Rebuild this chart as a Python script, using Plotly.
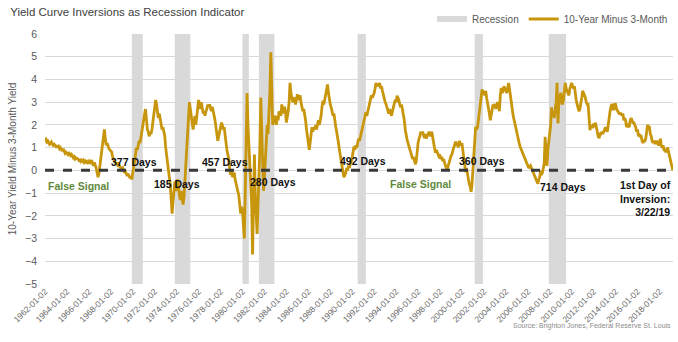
import plotly.graph_objects as go

# ---------------- data (monthly values) ----------------
spread_by_year = {
    1962: [1.45, 1.35, 1.25, 1.30, 1.20, 1.15, 1.20, 1.25, 1.15, 1.10, 1.15, 1.10],
    1963: [1.05, 1.10, 1.00, 1.05, 0.95, 1.00, 0.90, 0.85, 0.95, 0.80, 0.75, 0.80],
    1964: [0.75, 0.70, 0.80, 0.70, 0.65, 0.70, 0.60, 0.55, 0.60, 0.50, 0.55, 0.50],
    1965: [0.50, 0.45, 0.50, 0.40, 0.45, 0.40, 0.45, 0.35, 0.40, 0.45, 0.30, 0.35],
    1966: [0.40, 0.30, 0.35, 0.45, 0.30, 0.20, 0.35, 0.25, 0.10, -0.10, -0.30, -0.15],
    1967: [0.20, 0.50, 0.90, 1.30, 1.60, 1.80, 1.40, 1.10, 1.20, 1.00, 0.95, 0.90],
    1968: [0.85, 0.80, 0.60, 0.45, 0.40, 0.35, 0.30, 0.25, 0.35, 0.20, 0.15, 0.10],
    1969: [0.05, 0.10, 0.00, -0.10, -0.05, -0.20, -0.25, -0.15, -0.30, -0.35, -0.25, -0.40],
    1970: [-0.10, 0.10, 0.40, 0.70, 1.00, 0.90, 1.10, 1.30, 1.20, 1.50, 1.60, 1.90],
    1971: [2.20, 2.50, 2.70, 2.20, 1.80, 1.70, 1.50, 1.65, 1.60, 1.80, 2.10, 2.50],
    1972: [2.80, 3.10, 2.90, 2.60, 2.30, 2.50, 2.20, 2.00, 1.80, 1.90, 1.70, 1.50],
    1973: [1.00, 0.60, 0.30, 0.00, -0.30, -0.60, -1.20, -1.90, -1.40, -0.80, -0.50, -0.90],
    1974: [-0.80, -0.40, -0.90, -1.10, -1.30, -0.90, -1.20, -1.50, -1.20, -0.50, 0.20, 0.60],
    1975: [1.20, 2.20, 3.00, 2.70, 2.30, 1.90, 1.80, 2.10, 2.40, 2.00, 2.50, 2.80],
    1976: [3.10, 2.90, 2.70, 3.00, 2.80, 2.50, 2.60, 2.40, 2.60, 2.70, 2.90, 2.80],
    1977: [2.90, 2.70, 2.60, 2.80, 2.50, 2.40, 2.20, 1.80, 1.40, 1.30, 1.50, 1.70],
    1978: [1.90, 2.10, 2.00, 1.80, 1.90, 1.50, 1.20, 0.90, 0.70, 0.50, 0.10, -0.20],
    1979: [0.00, -0.30, -0.20, -0.10, -0.40, -0.60, -0.70, -0.90, -1.10, -1.50, -1.90, -1.60],
    1980: [-1.80, -2.40, -3.00, -1.00, 2.50, 3.40, 2.00, 1.00, 0.20, -0.50, -1.50, -3.70],
    1981: [-2.00, 0.70, -1.00, -2.20, -2.80, -1.50, -0.50, 1.00, 3.20, 2.00, 0.50, -0.90],
    1982: [-0.30, 0.50, 1.20, 2.00, 1.60, 2.50, 3.50, 5.20, 3.00, 2.00, 2.20, 2.40],
    1983: [2.30, 2.00, 2.40, 2.20, 2.60, 2.50, 2.40, 2.90, 2.70, 2.50, 2.80, 2.60],
    1984: [2.10, 2.30, 2.60, 3.00, 3.85, 3.40, 3.10, 3.00, 3.20, 3.10, 2.90, 3.20],
    1985: [3.35, 3.10, 3.20, 3.30, 3.00, 2.80, 2.60, 2.70, 2.50, 2.20, 1.80, 1.50],
    1986: [1.10, 0.90, 1.20, 1.50, 1.90, 1.70, 1.90, 1.80, 2.00, 1.80, 2.10, 2.20],
    1987: [2.00, 2.20, 2.40, 2.80, 3.06, 2.90, 3.10, 3.30, 3.50, 3.78, 3.40, 3.10],
    1988: [2.90, 2.77, 2.60, 2.40, 2.50, 2.10, 1.92, 1.70, 1.50, 1.20, 0.90, 0.60],
    1989: [0.30, 0.20, -0.10, -0.30, -0.20, -0.10, 0.10, 0.00, 0.20, 0.10, 0.30, 0.40],
    1990: [0.60, 0.90, 1.05, 0.90, 1.10, 1.00, 1.20, 1.40, 1.30, 1.50, 1.70, 1.90],
    1991: [2.06, 2.20, 2.40, 2.56, 2.40, 2.60, 2.70, 2.90, 3.10, 3.30, 3.20, 3.30],
    1992: [3.40, 3.60, 3.85, 3.70, 3.80, 3.70, 3.85, 3.60, 3.70, 3.50, 3.30, 3.20],
    1993: [3.00, 2.90, 2.80, 2.60, 2.50, 2.70, 2.50, 2.40, 2.60, 2.80, 3.00, 3.10],
    1994: [3.00, 3.28, 3.20, 3.10, 2.90, 2.77, 2.90, 2.70, 2.50, 2.20, 1.80, 1.50],
    1995: [1.34, 1.20, 1.00, 0.92, 0.80, 0.60, 0.50, 0.60, 0.40, 0.27, 0.40, 0.90],
    1996: [1.20, 1.40, 1.50, 1.70, 1.60, 1.70, 1.50, 1.42, 1.60, 1.40, 1.50, 1.60],
    1997: [1.70, 1.60, 1.50, 1.70, 1.40, 1.20, 1.00, 0.77, 0.90, 0.80, 0.70, 0.60],
    1998: [0.63, 0.50, 0.60, 0.40, 0.50, 0.30, 0.20, 0.10, -0.01, 0.20, 0.40, 0.50],
    1999: [0.63, 0.70, 0.90, 1.00, 1.10, 1.27, 1.10, 1.20, 1.00, 1.30, 1.20, 1.10],
    2000: [1.20, 0.80, 0.50, 0.30, -0.08, 0.10, -0.20, -0.40, -0.60, -0.70, -0.94, -0.60],
    2001: [0.00, 0.50, 1.00, 1.92, 1.80, 1.90, 2.20, 2.50, 2.90, 3.20, 3.56, 3.40],
    2002: [3.42, 3.30, 3.50, 3.20, 3.00, 2.80, 2.50, 2.20, 2.50, 2.60, 2.90, 2.80],
    2003: [2.92, 2.70, 2.80, 3.00, 2.90, 2.60, 3.30, 3.63, 3.40, 3.50, 3.70, 3.60],
    2004: [3.50, 3.40, 3.60, 3.85, 3.60, 3.20, 2.90, 2.70, 2.40, 2.20, 2.00, 1.90],
    2005: [1.60, 1.40, 1.30, 1.13, 1.00, 0.90, 0.80, 0.63, 0.60, 0.50, 0.40, 0.30],
    2006: [0.20, 0.10, 0.15, 0.20, 0.10, 0.00, -0.10, -0.23, -0.30, -0.40, -0.50, -0.59],
    2007: [-0.40, -0.30, -0.01, -0.20, -0.10, 0.10, 0.30, 1.48, 0.80, 0.20, 0.90, 1.30],
    2008: [1.77, 2.00, 2.77, 2.40, 2.60, 2.30, 2.70, 3.00, 3.85, 2.06, 3.00, 3.20],
    2009: [3.42, 3.00, 2.90, 3.10, 3.50, 3.85, 3.60, 3.50, 3.42, 3.30, 3.60, 3.70],
    2010: [3.85, 3.70, 3.60, 3.70, 3.30, 3.10, 2.90, 2.77, 2.60, 2.70, 2.90, 3.20],
    2011: [3.50, 3.40, 3.30, 3.20, 3.00, 2.90, 2.90, 2.20, 1.77, 2.00, 1.90, 1.90],
    2012: [2.06, 1.90, 2.10, 1.90, 1.60, 1.50, 1.42, 1.60, 1.60, 1.70, 1.60, 1.70],
    2013: [1.77, 1.90, 1.80, 1.70, 2.00, 2.40, 2.60, 2.80, 2.92, 2.70, 2.70, 2.90],
    2014: [2.90, 2.70, 2.63, 2.60, 2.50, 2.50, 2.50, 2.40, 2.50, 2.20, 2.30, 2.20],
    2015: [1.90, 2.00, 1.92, 1.90, 2.20, 2.30, 2.20, 2.10, 2.10, 2.00, 1.90, 1.70],
    2016: [1.80, 1.50, 1.60, 1.50, 1.50, 1.30, 1.20, 1.30, 1.30, 1.40, 1.90, 2.00],
    2017: [1.90, 1.90, 1.60, 1.50, 1.30, 1.20, 1.30, 1.20, 1.20, 1.30, 1.20, 1.10],
    2018: [1.20, 1.40, 1.10, 1.00, 1.10, 0.90, 0.90, 0.80, 0.90, 1.00, 0.80, 0.60],
    2019: [0.40, 0.30],
}
end_date = "2019-03-22"
end_value = 0.0

rec_start = ["1969-12-01", "1973-11-01", "1980-01-01", "1981-07-01",
             "1990-07-01", "2001-03-01", "2007-12-01"]
rec_end = ["1970-11-30", "1975-03-31", "1980-07-31", "1982-11-30",
           "1991-03-31", "2001-11-30", "2009-06-30"]

tick_labels = [f"{y}-01-02" for y in range(1962, 2019, 2)]

lag_text = ["377 Days", "185 Days", "457 Days", "280 Days",
            "492 Days", "360 Days", "714 Days"]
lag_x = ["1970-02-01", "1974-01-01", "1978-05-15", "1982-10-15",
         "1991-01-01", "2001-11-15", "2009-04-01"]
lag_y = [0.39, -0.60, 0.39, -0.52, 0.43, 0.43, -0.73]

false_x = ["1962-02-15", "1996-04-01"]
false_y = [-0.70, -0.60]
false_anchor = ["left", "center"]

# ---------------- build series ----------------
dates, values = [], []
for yr, vals in spread_by_year.items():
    for i, v in enumerate(vals):
        dates.append(f"{yr}-{i + 1:02d}-02")
        values.append(v)
dates.append(end_date)
values.append(end_value)

GOLD = "#C8960C"
REC = "#D9D9D9"
FONT = "Liberation Sans, Arial, sans-serif"

fig = go.Figure()
fig.add_trace(go.Scatter(x=[None], y=[None], mode="lines", name="Recession",
                         line=dict(color=REC, width=6)))
fig.add_trace(go.Scatter(x=dates, y=values, mode="lines", name="10-Year Minus 3-Month",
                         line=dict(color=GOLD, width=2.8)))

for s, e in zip(rec_start, rec_end):
    fig.add_shape(type="rect", xref="x", yref="y", x0=s, x1=e, y0=-5, y1=6,
                  fillcolor=REC, line_width=0, layer="below")

fig.add_shape(type="line", xref="paper", yref="y", x0=0, x1=1, y0=0, y1=0,
              line=dict(color="#3A3A3A", width=3, dash="dash"), layer="above")

for t, x, y in zip(lag_text, lag_x, lag_y):
    fig.add_annotation(x=x, y=y, text=f"<b>{t}</b>", showarrow=False,
                       font=dict(family=FONT, size=10.5, color="#111111"))
for x, y, a in zip(false_x, false_y, false_anchor):
    fig.add_annotation(x=x, y=y, xanchor=a, text="<b>False Signal</b>", showarrow=False,
                       font=dict(family=FONT, size=10.5, color="#5F8A3C"))
fig.add_annotation(x=1, xref="paper", xanchor="right", y=-1.24, yanchor="middle",
                   text="<b>1st Day of<br>Inversion:<br>3/22/19</b>", align="right",
                   showarrow=False, font=dict(family=FONT, size=10.5, color="#111111"))

fig.add_annotation(x=1, xref="paper", xanchor="right", y=-0.168, yref="paper",
                   yanchor="middle", text="Source: Brighton Jones, Federal Reserve St. Louis",
                   showarrow=False, font=dict(family=FONT, size=7, color="#8C8C8C"))

fig.update_layout(
    width=678, height=342,
    margin=dict(l=45, r=5, t=28, b=58),
    paper_bgcolor="white", plot_bgcolor="white",
    title=dict(text="Yield Curve Inversions as Recession Indicator", x=0.015, xanchor="left",
               y=0.965, yanchor="middle",
               font=dict(family=FONT, size=11.5, color="#404040")),
    legend=dict(orientation="h", x=1.0, xanchor="right", y=1.06, yanchor="middle",
                font=dict(family=FONT, size=10, color="#595959"),
                bgcolor="rgba(0,0,0,0)", itemwidth=30, tracegroupgap=0),
    showlegend=True,
)
fig.update_xaxes(type="date", range=["1962-01-02", "2019-03-28"],
                 tickvals=tick_labels, ticktext=tick_labels, tickangle=-45,
                 tickfont=dict(family=FONT, size=8.5, color="#6A6A6A"),
                 showgrid=False, zeroline=False, showline=False, ticks="")
fig.update_yaxes(range=[-5, 6], dtick=1, tick0=0, ticklabelstandoff=7,
                 tickfont=dict(family=FONT, size=10.5, color="#595959"),
                 gridcolor="#D9D9D9", gridwidth=1, zeroline=False, showline=False,
                 title=dict(text="10-Year Yield Minus 3-Month Yield", standoff=6,
                            font=dict(family=FONT, size=10, color="#595959")))

fig.write_html("out.html")
